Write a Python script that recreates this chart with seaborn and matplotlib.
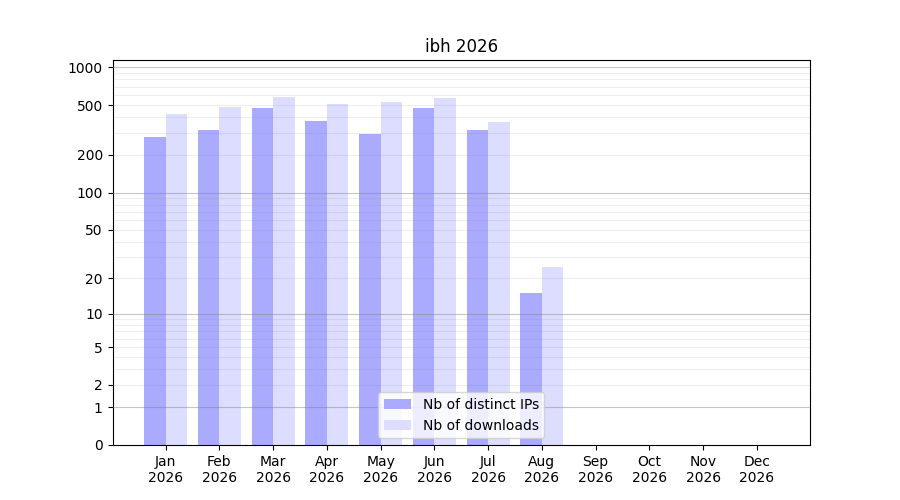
import numpy as np
import pandas as pd
import matplotlib
matplotlib.use("Agg")
import matplotlib.pyplot as plt
import seaborn as sns

months = ["Jan", "Feb", "Mar", "Apr", "May", "Jun", "Jul", "Aug", "Sep", "Oct", "Nov", "Dec"]
year = "2026"
distinct_ips = [278, 315, 472, 372, 293, 472, 315, 15, 0, 0, 0, 0]
downloads = [423, 481, 577, 508, 527, 567, 365, 25, 0, 0, 0, 0]
series_names = ["Nb of distinct IPs", "Nb of downloads"]
series_colors = ["#aaaaff", "#ddddff"]
ytick_values = [0, 1, 2, 5, 10, 20, 50, 100, 200, 500, 1000]

labels = [f"{m}\n{year}" for m in months]
df = pd.DataFrame({
    "month": labels * 2,
    "value": distinct_ips + downloads,
    "series": [series_names[0]] * 12 + [series_names[1]] * 12,
})

fig, ax = plt.subplots(figsize=(9, 5), dpi=100)
ax.set_yscale("function", functions=(lambda x: np.log10(1 + np.clip(x, 0, None)),
                                     lambda y: 10 ** y - 1))
sns.barplot(data=df, x="month", y="value", hue="series", order=labels,
            hue_order=series_names, palette=series_colors, saturation=1,
            linewidth=0, ax=ax, width=0.8, legend=True)

# grid lines
for d in [1, 10, 100]:
    for k in range(2, 10):
        ax.axhline(d * k, color="grey", alpha=0.13, linewidth=0.8, zorder=3)
for v in [1, 10, 100, 1000]:
    ax.axhline(v, color="grey", alpha=0.45, linewidth=0.8, zorder=3)

ax.set_ylim(0, 1140)
ax.set_yticks(ytick_values)
ax.set_yticklabels([str(v) for v in ytick_values])
ax.yaxis.set_minor_locator(matplotlib.ticker.NullLocator())
ax.set_xlim(-0.99, 11.99)
ax.set_xlabel("")
ax.set_ylabel("")
ax.set_title("ibh 2026")

handles, lbls = ax.get_legend_handles_labels()
ax.legend(handles, lbls, loc="lower center")

fig.savefig("out.png", dpi=100)
